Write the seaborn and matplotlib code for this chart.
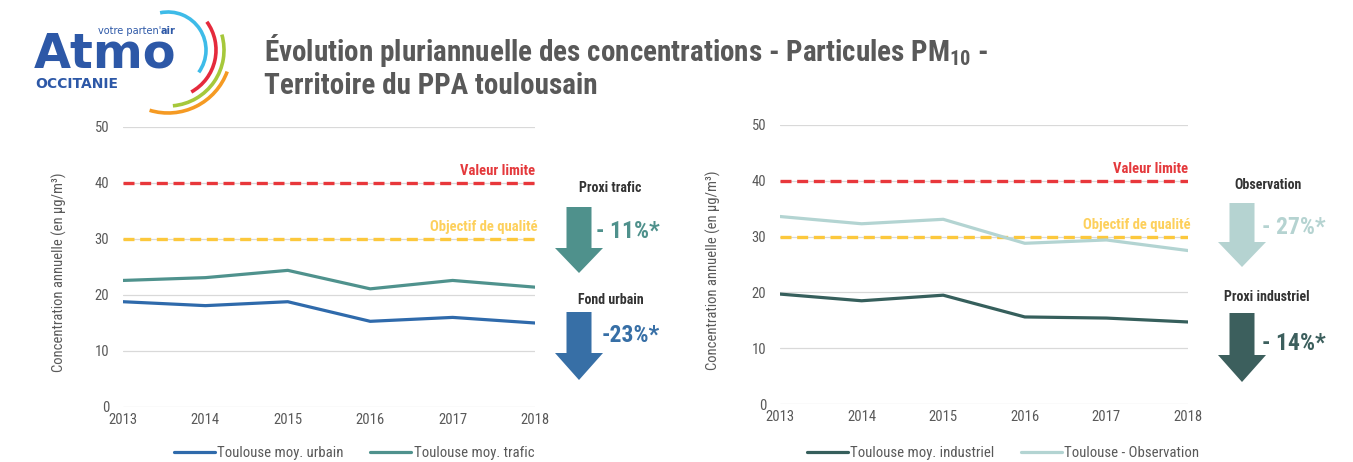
import pandas as pd
import seaborn as sns
import matplotlib
matplotlib.use("Agg")
import matplotlib.pyplot as plt
from matplotlib import font_manager
from matplotlib.patches import Arc, Polygon

# data
years = [2013, 2014, 2015, 2016, 2017, 2018]
urbain = [18.8, 18.1, 18.8, 15.3, 16.0, 15.0]
trafic = [22.6, 23.1, 24.4, 21.1, 22.6, 21.4]
industriel = [19.7, 18.5, 19.5, 15.6, 15.4, 14.7]
observation = [33.6, 32.3, 33.1, 28.8, 29.4, 27.5]
valeur_limite = 40
objectif_qualite = 30
left_names = ["Toulouse moy. urbain", "Toulouse moy. trafic"]
right_names = ["Toulouse moy. industriel", "Toulouse - Observation"]
left_trends = [("Proxi trafic", "- 11%*"), ("Fond urbain", "-23%*")]
right_trends = [("Observation", "- 27%*"), ("Proxi industriel", "- 14%*")]

BLUE = "#2f6aab"
TEAL = "#4f928d"
DARK = "#365f5c"
LIGHT = "#b3d4d2"
RED = "#e8373b"
YELLOW = "#fcc83c"
GREY = "#595959"

sns.set_theme(style="white")
names = {f.name for f in font_manager.fontManager.ttflist}
NARROW = "Liberation Sans"
for cand in ["Liberation Sans Narrow", "Roboto Condensed", "Open Sans Condensed", "Arial Narrow"]:
    if cand in names:
        NARROW = cand
        break
plt.rcParams["font.family"] = [NARROW, "DejaVu Sans"]

fig = plt.figure(figsize=(13.53, 4.62), dpi=100)
W, H = 1353, 462


def px_axes(x0, x1, y0, y1):
    return fig.add_axes([x0 / W, 1 - y1 / H, (x1 - x0) / W, (y1 - y0) / H])


def make_panel(ax, series, names_, colors, label_x, leg_center):
    df = pd.DataFrame({
        "year": years * len(series),
        "value": [v for s in series for v in s],
        "series": [n for n in names_ for _ in years],
    })
    sns.lineplot(data=df, x="year", y="value", hue="series", palette=colors,
                 linewidth=2.3, ax=ax)
    ax.axhline(valeur_limite, color=RED, lw=2.4, ls=(0, (3.3, 1.7)), zorder=1)
    ax.axhline(objectif_qualite, color=YELLOW, lw=2.4, ls=(0, (3.3, 1.7)), zorder=1)
    ax.set_xlim(2013, 2018)
    ax.set_ylim(0, 50)
    ax.set_yticks(range(0, 51, 10))
    ax.set_xticks(years)
    ax.grid(axis="y", color="#d9d9d9", lw=0.9)
    ax.grid(axis="x", visible=False)
    for sp in ax.spines.values():
        sp.set_visible(False)
    ax.tick_params(axis="both", length=0, labelsize=10.5, labelcolor=GREY)
    ax.tick_params(axis="y", pad=10)
    ax.tick_params(axis="x", pad=4)
    ax.set_xlabel("")
    ax.set_ylabel("Concentration annuelle (en µg/m³)", fontsize=10.5, color=GREY)
    ax.yaxis.set_label_coords(label_x, 0.48)
    ax.text(2018, 42.2, "Valeur limite", color="#e4393c", fontsize=10.5,
            fontweight="bold", ha="right", va="center")
    ax.text(2018.03, 32.1, "Objectif de qualité", color="#fdd05c", fontsize=10.5,
            fontweight="bold", ha="right", va="center")
    handles, labels = ax.get_legend_handles_labels()
    ax.legend(handles, labels, loc="center", bbox_to_anchor=(leg_center / W, 1 - 453 / H),
              bbox_transform=fig.transFigure, ncol=2, frameon=False, fontsize=10.6,
              handlelength=2.8, handletextpad=0.15, columnspacing=1.8,
              labelcolor=GREY)


ax1 = px_axes(123, 535, 127, 407)
make_panel(ax1, [urbain, trafic], left_names, [BLUE, TEAL], -0.136, 354)
ax2 = px_axes(780, 1188, 125, 404)
make_panel(ax2, [industriel, observation], right_names, [DARK, LIGHT], -0.145, 1003)

# overlay in pixel coordinates for logo, title and trend arrows
ov = fig.add_axes([0, 0, 1, 1], zorder=-1)
ov.set_xlim(0, W)
ov.set_ylim(H, 0)
ov.axis("off")

# logo
for r, t1, t2, c in [(38, -102, 36, "#3ebbe8"), (48, -36, 61, "#e52a3c"),
                     (56, -16, 85, "#a6c83b"), (63, 20, 107, "#f59a23")]:
    ov.add_patch(Arc((168, 50), 2 * r, 2 * r, theta1=t1, theta2=t2, color=c, lw=2.6))
ov.text(34, 67, "Atmo", family="DejaVu Sans", fontweight="bold", fontsize=34.5,
        color="#2d58a7", va="baseline", ha="left")
ov.text(161, 34, "votre parten'", family="DejaVu Sans", fontsize=7, color="#2d58a7",
        ha="right", va="baseline")
ov.text(161, 34, "air", family="DejaVu Sans", fontsize=7, fontweight="bold",
        color="#2d58a7", ha="left", va="baseline")
ov.text(35, 88, "OCCITANIE", family="DejaVu Sans", fontweight="bold", fontsize=10,
        color="#2d58a7", ha="left", va="baseline")

# title
ov.text(264, 61, "Évolution pluriannuelle des concentrations - Particules PM$_{\\mathregular{10}}$ -",
        fontsize=21, fontweight="bold", color=GREY, ha="left", va="baseline")
ov.text(264, 94, "Territoire du PPA toulousain", fontsize=21, fontweight="bold",
        color=GREY, ha="left", va="baseline")


def trend(cx, top, head, tip, col, label, pct, label_y, pct_x, pct_y, label_cx):
    sw, hw = 12.5, 24
    ov.add_patch(Polygon([(cx - sw, top), (cx + sw, top), (cx + sw, head), (cx + hw, head),
                          (cx, tip), (cx - hw, head), (cx - sw, head)],
                         closed=True, color=col, lw=0))
    ov.text(label_cx, label_y, label, fontsize=10, fontweight="bold", color="#333333",
            ha="center", va="center")
    ov.text(pct_x, pct_y, pct, fontsize=17, fontweight="bold", color=col,
            ha="left", va="center")


trend(579, 207, 248, 273, "#4f918c", left_trends[0][0], left_trends[0][1], 188, 596, 232, 610)
trend(579, 312, 353, 380, "#376fa6", left_trends[1][0], left_trends[1][1], 300, 602, 335, 611)
trend(1242, 203, 242, 267, "#b5d3d1", right_trends[0][0], right_trends[0][1], 185, 1262, 227, 1268)
trend(1242, 313, 355, 382, "#3c5f5d", right_trends[1][0], right_trends[1][1], 297, 1262, 343, 1267)

fig.savefig("out.png", dpi=100)
